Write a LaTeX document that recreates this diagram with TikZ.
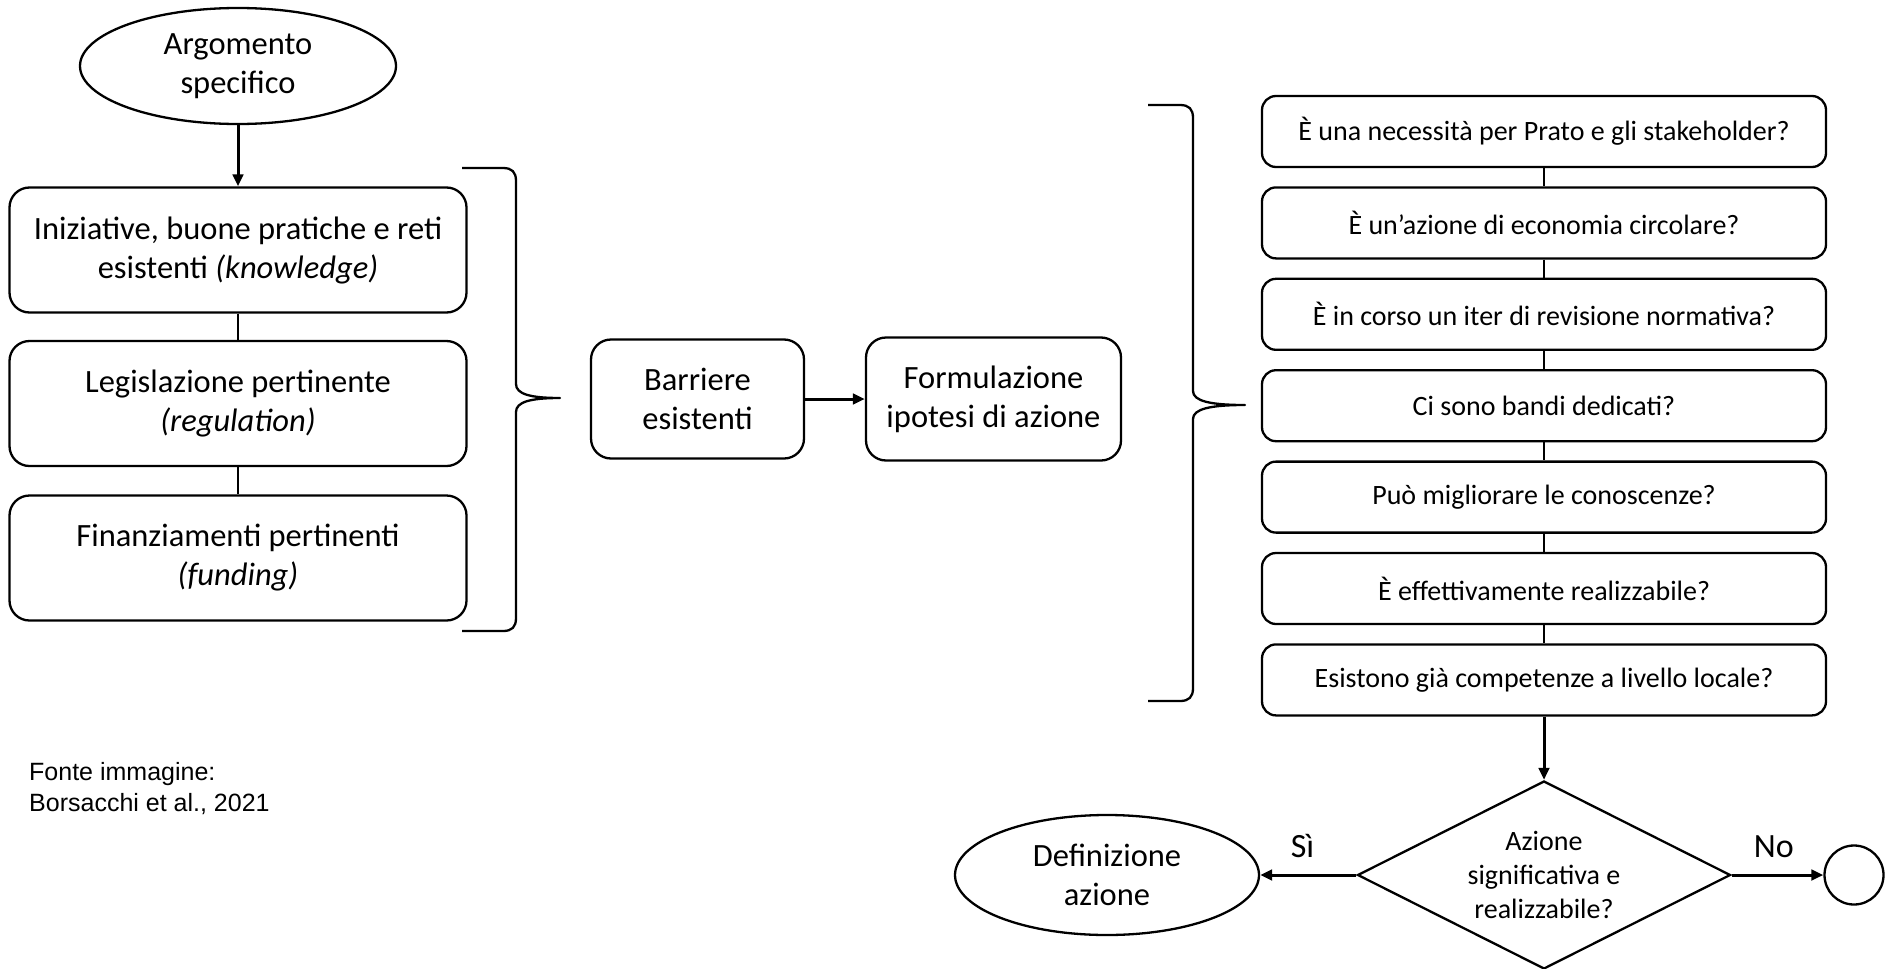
\documentclass[tikz,border=0pt]{standalone}
\usepackage{fontspec}
\setmainfont{Carlito}
\newfontfamily\srcfont{Liberation Sans}
\usetikzlibrary{shapes.geometric,arrows.meta}
\newcommand\bigtxt{\fontsize{32.5bp}{39bp}\selectfont}
\newcommand\qtxt{\fontsize{28bp}{34bp}\selectfont}
\newcommand\labtxt{\fontsize{34bp}{40bp}\selectfont}
\newcommand\srctxt{\srcfont\fontsize{25bp}{31bp}\selectfont}

\begin{document}
\begin{tikzpicture}[x=1bp,y=-1bp,
  outline/.style={draw=black, line width=2.3bp, inner sep=0pt, align=center},
  bigbox/.style={outline, rounded corners=20bp, font=\bigtxt, minimum width=457bp, minimum height=125bp},
  midbox/.style={outline, rounded corners=20bp, font=\bigtxt},
  qbox/.style={outline, rounded corners=14bp, font=\qtxt, minimum width=564bp, minimum height=71bp},
  oval/.style={outline, ellipse, font=\bigtxt},
  decision/.style={outline, diamond, aspect=2, font=\qtxt, minimum width=373bp, minimum height=188bp},
  link/.style={line width=2.6bp},
  flow/.style={line width=3bp, -{Triangle[length=12bp,width=10.5bp]}},
  curlybrace/.style={line width=2.3bp, line join=round},
  branchlabel/.style={font=\labtxt, inner sep=0pt}
]
\path[fill=white] (0,0) rectangle (1889,968);
\useasboundingbox (0,0) rectangle (1889,968);

% left column
\node[oval, minimum width=316bp, minimum height=116bp] (arg) at (238,66) {Argomento\\specifico};
\node[bigbox] (know) at (238,250) {Iniziative, buone pratiche e reti\\esistenti \textit{(knowledge)}};
\node[bigbox] (reg) at (238,403.5) {Legislazione pertinente\\\textit{(regulation)}};
\node[bigbox] (fund) at (238,558) {Finanziamenti pertinenti\\\textit{(funding)}};

\draw[flow] (arg.south) -- (know.north);
\draw[link] (know.south) -- (reg.north);
\draw[link] (reg.south) -- (fund.north);

% brace grouping the three inputs
\draw[curlybrace] (462,168) -- (503,168) .. controls (512,168) and (516,172) .. (516,181)
  -- (516,384) .. controls (516,394) and (530,398) .. (560,398)
  .. controls (530,398) and (516,402) .. (516,412)
  -- (516,618) .. controls (516,627) and (512,631) .. (503,631) -- (462,631);

% middle
\node[midbox, minimum width=213bp, minimum height=119bp] (bar) at (697.5,399) {Barriere\\esistenti};
\node[midbox, minimum width=255bp, minimum height=123bp] (form) at (993.5,399) {Formulazione\\ipotesi di azione};
\draw[flow] (bar.east) -- (form.west);

% brace grouping the checks
\draw[curlybrace] (1148,105) -- (1180,105) .. controls (1189,105) and (1193,109) .. (1193,118)
  -- (1193,391) .. controls (1193,401) and (1210,405) .. (1245,405)
  .. controls (1210,405) and (1193,409) .. (1193,419)
  -- (1193,688) .. controls (1193,697) and (1189,701) .. (1180,701) -- (1148,701);

% checks
\node[qbox] (q1) at (1544,131.5) {È una necessità per Prato e gli stakeholder?};
\node[qbox] (q2) at (1544,222.9) {È un’azione di economia circolare?};
\node[qbox] (q3) at (1544,314.3) {È in corso un iter di revisione normativa?};
\node[qbox] (q4) at (1544,405.7) {Ci sono bandi dedicati?};
\node[qbox] (q5) at (1544,497.1) {Può migliorare le conoscenze?};
\node[qbox] (q6) at (1544,588.5) {È effettivamente realizzabile?};
\node[qbox] (q7) at (1544,679.9) {Esistono già competenze a livello locale?};
\draw[link] (q1.south) -- (q2.north);
\draw[link] (q2.south) -- (q3.north);
\draw[link] (q3.south) -- (q4.north);
\draw[link] (q4.south) -- (q5.north);
\draw[link] (q5.south) -- (q6.north);
\draw[link] (q6.south) -- (q7.north);

% decision
\node[decision] (dec) at (1544,875) {Azione\\significativa e\\realizzabile?};
\node[oval, minimum width=304bp, minimum height=120bp] (def) at (1107,875) {Definizione\\azione};
\node[outline, circle, minimum size=59bp] (stop) at (1854,875) {};

\draw[flow] (q7.south) -- (dec.north);
\draw[flow] (dec.west) -- node[branchlabel, pos=0.56, above=16bp] (yes) {Sì} (def.east);
\draw[flow] (dec.east) -- node[branchlabel, pos=0.46, above=16bp] (no) {No} (stop.west);

% source
\node[anchor=north west, align=left, inner sep=0pt, font=\srctxt] (src) at (29,762) {Fonte immagine:\\Borsacchi et al., 2021};
\end{tikzpicture}
\end{document}
